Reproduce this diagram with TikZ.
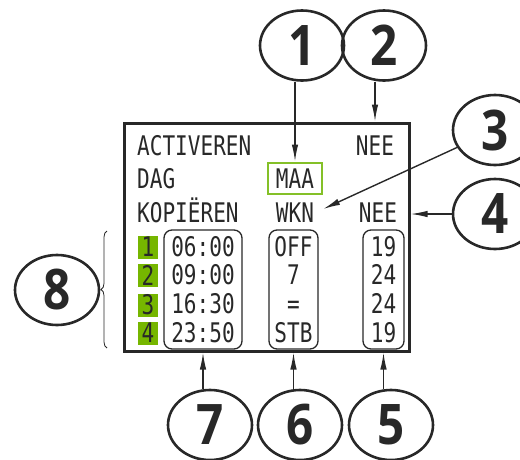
\documentclass[tikz,border=0pt]{standalone}
\usepackage{fontspec}
\usetikzlibrary{shapes.geometric,arrows.meta,decorations.pathreplacing}
\newfontfamily\lcdfont[FakeStretch=0.78]{DejaVu Sans Mono}
\newfontfamily\numfont[FakeStretch=0.85]{Open Sans}
\definecolor{ink}{RGB}{40,40,40}
\definecolor{lcdgreen}{RGB}{118,182,0}
\definecolor{framegreen}{RGB}{132,192,40}

\begin{document}
\begin{tikzpicture}[x=1pt, y=-1pt,
    lcd/.style={inner sep=0pt, text height=20pt, text depth=0pt, text=ink, font=\lcdfont\fontsize{27}{28.7}\selectfont},
    col/.style={draw=ink, line width=1.3pt, rounded corners=8pt, minimum height=119pt, inner sep=0pt, align=center, text=ink, font=\lcdfont\fontsize{27}{28.7}\selectfont},
    slot/.style={fill=lcdgreen, minimum width=20pt, minimum height=23pt, inner sep=0pt, text=ink, font=\lcdfont\fontsize{27}{27}\selectfont},
    num/.style={ellipse, draw=ink, line width=2.6pt, minimum width=84pt, minimum height=70pt, inner sep=0pt, text=ink, font=\numfont\bfseries\fontsize{56}{56}\selectfont},
    arrow/.style={-{Latex[length=17pt,width=6.5pt]}, line width=1.4pt, ink}
]
\useasboundingbox (0,0) rectangle (520,459);

% Display frame
\node[draw=ink, line width=3pt, minimum width=285pt, minimum height=228pt, inner sep=0pt] (screen) at (266.5,237) {};

% Menu lines
\node[lcd, anchor=west] (act) at (137,145) {ACTIVEREN};
\node[lcd] (nee1) at (375,145) {NEE};
\node[lcd, anchor=west] (dag) at (137,178) {DAG};
\node[lcd, draw=framegreen, line width=2pt, minimum width=54pt, minimum height=31pt, text height=20pt] (maa) at (295,178) {MAA};
\node[lcd, anchor=west] (kop) at (137,212) {KOPIËREN};
\node[lcd] (wkn) at (295,212) {WKN};
\node[lcd] (nee2) at (378,212) {NEE};

% Program slots
\node[slot] (sq1) at (148,247) {1};
\node[slot] (sq2) at (148,275) {2};
\node[slot] (sq3) at (148,305) {3};
\node[slot] (sq4) at (148,333) {4};

% Columns
\node[col, minimum width=78pt] (times) at (203,289.5) {06:00\\09:00\\16:30\\23:50};
\node[col, minimum width=49pt] (mode) at (293.5,289.5) {OFF\\7\\=\\STB};
\node[col, minimum width=41pt] (temp) at (383.5,289.5) {19\\24\\24\\19};

% Callouts
\node[num] (c1) at (302,45.5) {1};
\node[num] (c2) at (384,45.5) {2};
\node[num] (c3) at (495,130) {3};
\node[num] (c4) at (495,214) {4};
\node[num] (c5) at (391,425) {5};
\node[num] (c6) at (300,425) {6};
\node[num] (c7) at (210,425) {7};
\node[num] (c8) at (57,290) {8};

% Brace
\coordinate (brbot) at (107,348);
\coordinate (brtop) at (107,231);
\draw[ink, line width=0.8pt, decorate, decoration={brace, amplitude=6pt}] (brbot) -- (brtop);

% Arrows
\draw[arrow] (maa.north |- c1.south) -- (maa.north);
\draw[arrow] (nee1 |- c2.south) -- (nee1 |- screen.north);
\draw[arrow] (c3) -- ([xshift=9pt,yshift=3pt]wkn.east);
\draw[arrow] (c4.west) -- (c4.west -| screen.east);
\draw[arrow] (temp |- c5.north) -- (temp |- screen.south);
\draw[arrow] (mode |- c6.north) -- (mode |- screen.south);
\draw[arrow] (times |- c7.north) -- (times |- screen.south);

\end{tikzpicture}
\end{document}
